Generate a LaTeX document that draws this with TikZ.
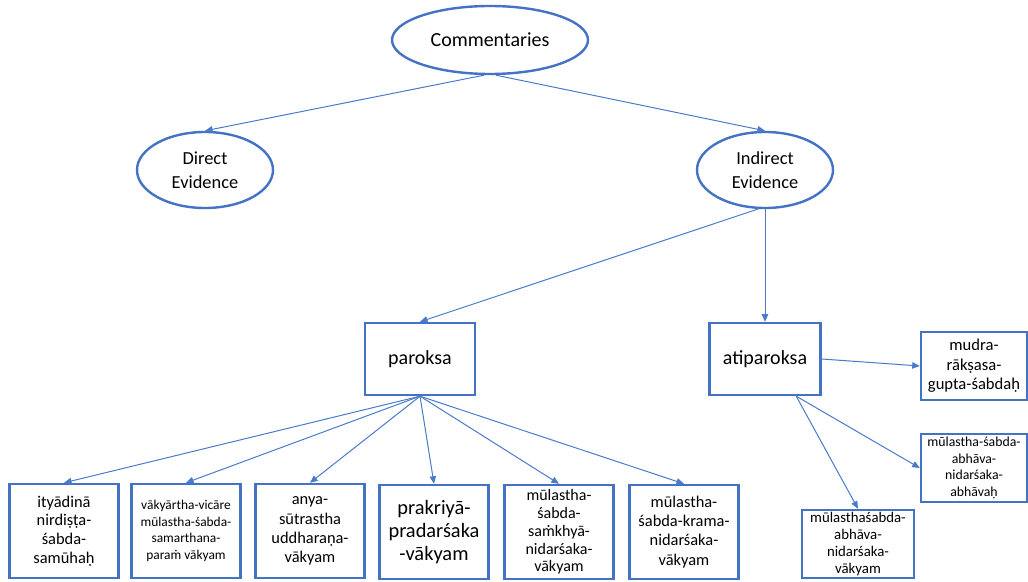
\documentclass[tikz,border=0pt]{standalone}
\usepackage{fontspec}
\setmainfont{Carlito}
\usetikzlibrary{arrows.meta,shapes.geometric}
\definecolor{boxblue}{HTML}{4472C4}
\definecolor{lineblue}{HTML}{4A7BCB}

\begin{document}
\begin{tikzpicture}[
    x=0.5pt, y=-0.5pt,
    oval/.style={
        ellipse,
        draw=boxblue,
        line width=1.2pt,
        inner sep=0pt,
        align=center
    },
    box/.style={
        rectangle,
        draw=boxblue,
        line width=1.2pt,
        inner sep=1pt,
        align=center,
        minimum width=54.5pt,
        minimum height=47pt
    },
    sidebox/.style={box, minimum width=53pt, minimum height=34pt},
    link/.style={-{Triangle[length=3.8pt,width=3.2pt]}, draw=lineblue, line width=0.5pt},
    fs/.style 2 args={font=\fontsize{#1}{#2}\selectfont}
]
\useasboundingbox (0,0) rectangle (1028,582);

% =========================================================
% Top levels
% =========================================================
\node[oval, minimum width=98pt, minimum height=34pt, fs={10}{12}] (comm) at (490,40) {Commentaries};

\node[oval, minimum width=68pt, minimum height=38pt, fs={9.2}{12}] (direct) at (205,170) {Direct\\Evidence};
\node[oval, minimum width=68pt, minimum height=38pt, fs={9.2}{12}] (indirect) at (765,170) {Indirect\\Evidence};

\node[box, minimum width=55pt, minimum height=36pt, fs={10}{12}] (paroksa) at (420,359) {paroksa};
\node[box, minimum width=55.5pt, minimum height=36pt, fs={10}{12}] (atip) at (765,359) {atiparoksa};

% =========================================================
% Bottom row (paroksa)
% =========================================================
\node[box, fs={8.2}{9.3}] (ityadina) at (64,531) {ityādinā\\nirdiṣṭa-\\śabda-\\samūhaḥ};
\node[box, fs={6.7}{8.4}] (vakyartha) at (186,531) {vākyārtha-vicāre\\mūlastha-śabda-\\samarthana-\\paraṁ vākyam};
\node[box, fs={8.2}{9.6}] (anya) at (310,531) {anya-\\sūtrastha\\uddharaṇa-\\vākyam};
\node[box, fs={10.2}{11.5}] (prakriya) at (434,532) {prakriyā-\\pradarśaka\\-vākyam};
\node[box, fs={8}{8.9}] (sankhya) at (559,532) {mūlastha-\\śabda-\\saṁkhyā-\\nidarśaka-\\vākyam};
\node[box, fs={8.2}{9.6}] (krama) at (684,532) {mūlastha-\\śabda-krama-\\nidarśaka-\\vākyam};

% =========================================================
% Right side (atiparoksa)
% =========================================================
\node[sidebox, fs={8.3}{9.8}] (mudra) at (974,366) {mudra-\\rākṣasa-\\gupta-śabdaḥ};
\node[sidebox, fs={6.9}{8.3}] (abhavah) at (974,468) {mūlastha-śabda-\\abhāva-\\nidarśaka-\\abhāvaḥ};
\node[sidebox, minimum width=56pt, fs={7.4}{8.5}] (abhava) at (858,544) {mūlasthaśabda-\\abhāva-\\nidarśaka-\\vākyam};

% Links
\draw[link] ([xshift=-3pt]comm.south) -- (direct.north);
\draw[link] ([xshift=3pt]comm.south) -- (indirect.north);

\draw[link] (indirect.-100) -- (paroksa.north);
\draw[link] (indirect.south) -- (atip.north);

\draw[link] (paroksa.south) -- (ityadina.north);
\draw[link] (paroksa.south) -- (vakyartha.north);
\draw[link] (paroksa.south) -- (anya.north);
\draw[link] (paroksa.south) -- (prakriya.north);
\draw[link] (paroksa.south) -- (sankhya.north);
\draw[link] (paroksa.south) -- (krama.north);

\draw[link] (atip.east) -- (mudra.west);
\draw[link] (atip.-50) -- (abhavah.west);
\draw[link] (atip.-50) -- (abhava.north);

\end{tikzpicture}
\end{document}
